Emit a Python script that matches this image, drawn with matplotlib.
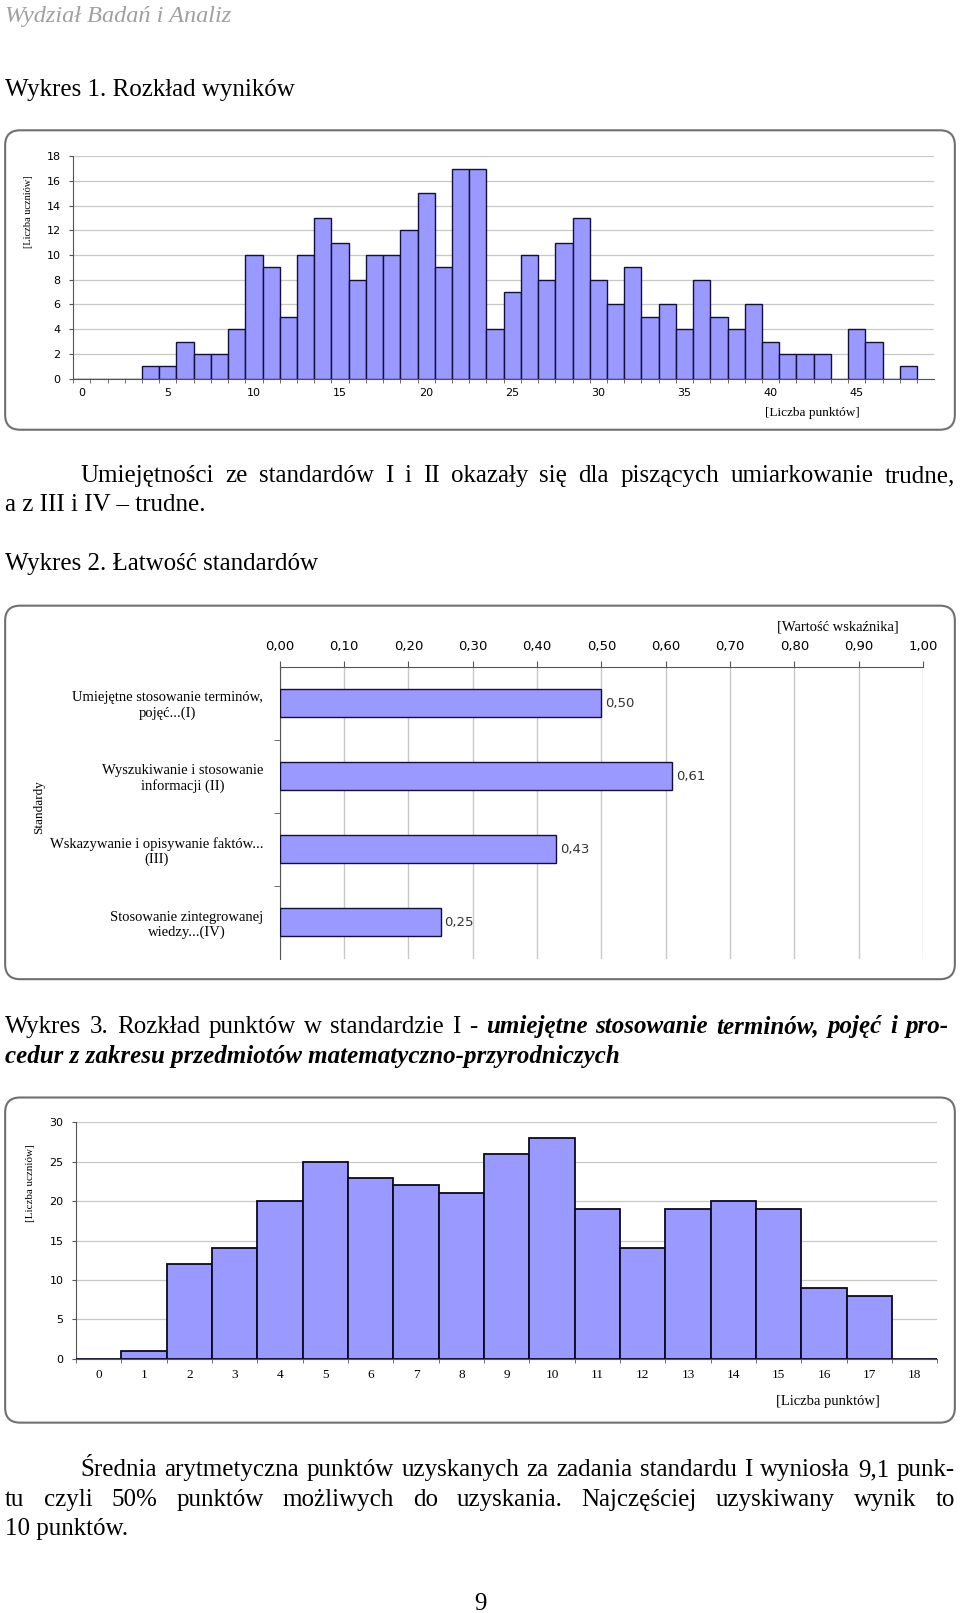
import matplotlib
matplotlib.use('Agg')
import matplotlib.pyplot as plt
from matplotlib.patches import FancyBboxPatch
from matplotlib.transforms import IdentityTransform

# Output size in pixels, and the layout grid the positions below are read on
W, H = 960, 1613
LW, LH = 933.0, 1568.0
S = W / LW

# Wykres 1 - rozkład wyników (liczba punktów -> liczba uczniów)
points_all = list(range(49))
students_all = [0, 0, 0, 0, 1, 1, 3, 2, 2, 4,
                10, 9, 5, 10, 13, 11, 8, 10, 10, 12,
                15, 9, 17, 17, 4, 7, 10, 8, 11, 13,
                8, 6, 9, 5, 6, 4, 8, 5, 4, 6,
                3, 2, 2, 2, 0, 4, 3, 0, 1]

# Wykres 2 - łatwość standardów
standards = ['Umiejętne stosowanie terminów,\npojęć...(I)',
             'Wyszukiwanie i stosowanie\ninformacji (II)',
             'Wskazywanie i opisywanie faktów...\n(III)',
             'Stosowanie zintegrowanej\nwiedzy...(IV)']
ease = [0.50, 0.61, 0.43, 0.25]
ease_ticks = [i / 10 for i in range(11)]

# Wykres 3 - rozkład punktów w standardzie I
points_std1 = list(range(19))
students_std1 = [0, 1, 12, 14, 20, 25, 23, 22, 21, 26,
                 28, 19, 14, 19, 20, 19, 9, 8, 0]

BAR = '#9999ff'
EDGE = '#10103a'
GRID = '#c8c8c8'
AXIS = '#555555'
SERIF = 'Liberation Serif'
SANS = 'DejaVu Sans'
BODY = 18

fig = plt.figure(figsize=(W / 100, H / 100), dpi=100)
renderer = fig.canvas.get_renderer()


def ax_box(x0, y0, x1, y1):
    """Axes from a layout box (y measured from the top of the page)."""
    return fig.add_axes([x0 / LW, 1 - y1 / LH, (x1 - x0) / LW, (y1 - y0) / LH])


def frame(x0, y0, x1, y1):
    p = FancyBboxPatch((x0 * S, (LH - y1) * S), (x1 - x0) * S, (y1 - y0) * S,
                       boxstyle='round,pad=0,rounding_size=15',
                       transform=IdentityTransform(), fc='white',
                       ec='#707070', lw=1.5, zorder=-1)
    fig.add_artist(p)


def put(px, py, s, **kw):
    kw.setdefault('family', SERIF)
    kw.setdefault('fontsize', BODY)
    kw.setdefault('va', 'baseline')
    return fig.text(px / LW, 1 - py / LH, s, **kw)


def justify(py, x0, x1, words, size=BODY):
    while True:
        texts = [put(0, py, w, fontsize=size, **kw) for w, kw in words]
        widths = [t.get_window_extent(renderer).width / S for t in texts]
        gap = (x1 - x0 - sum(widths)) / (len(texts) - 1)
        if gap >= 3 or size < 10:
            break
        for t in texts:
            t.remove()
        size -= 0.5
    x = x0
    for t, w in zip(texts, widths):
        t.set_x(x / LW)
        x += w + gap


def comma(v):
    return f'{v:.2f}'.replace('.', ',')


# ----- page text -----
put(5, 21, 'Wydział Badań i Analiz', fontsize=17.5, style='italic', color='#a0a0a0')
put(5, 93, 'Wykres 1. Rozkład wyników')

line = 'Umiejętności ze standardów I i II okazały się dla piszących umiarkowanie trudne,'
justify(469, 78, 928, [(w, {}) for w in line.split()])
put(5, 497, 'a z III i IV – trudne.')
put(5, 554, 'Wykres 2. Łatwość standardów')

bi = {'weight': 'bold', 'style': 'italic'}
l1 = [(w, {}) for w in 'Wykres 3. Rozkład punktów w standardzie I -'.split()]
l1 += [(w, bi) for w in 'umiejętne stosowanie terminów, pojęć i pro-'.split()]
justify(1004, 5, 922, l1)
put(5, 1033, 'cedur z zakresu przedmiotów matematyczno-przyrodniczych', **bi)

line = 'Średnia arytmetyczna punktów uzyskanych za zadania standardu I wyniosła 9,1 punk-'
justify(1435, 78, 928, [(w, {}) for w in line.split()])
line = 'tu czyli 50% punktów możliwych do uzyskania. Najczęściej uzyskiwany wynik to'
justify(1464, 5, 928, [(w, {}) for w in line.split()])
put(5, 1492, '10 punktów.')
put(467, 1565, '9', ha='center')

# ----- Wykres 1 -----
frame(5, 127, 928, 418)
ax1 = ax_box(71, 152, 908, 368)
ax1.bar(points_all, students_all, width=1.0, color=BAR, edgecolor=EDGE,
        linewidth=1.0, zorder=3)
ax1.set_xlim(-0.5, 49.5)
ax1.set_ylim(0, 18)
ax1.set_yticks(range(0, 19, 2))
ax1.set_xticks(points_all[::5])
ax1.set_xticks([p - 0.5 for p in points_all] + [48.5], minor=True)
ax1.tick_params(axis='x', which='major', length=0, pad=7, labelsize=8)
ax1.tick_params(axis='x', which='minor', length=3, color=AXIS)
ax1.tick_params(axis='y', length=3, color=AXIS, labelsize=8, pad=6)
ax1.grid(axis='y', color=GRID, lw=0.9, zorder=0)
for s in ('top', 'right'):
    ax1.spines[s].set_visible(False)
for s in ('left', 'bottom'):
    ax1.spines[s].set_color(AXIS)
put(28, 206, '[Liczba uczniów]', fontsize=7.5, rotation=90, ha='center', va='center')
put(790, 404, '[Liczba punktów]', fontsize=9.5, ha='center')

# ----- Wykres 2 -----
frame(5, 589, 928, 952)
ax2 = ax_box(272, 648, 897, 932)
pos = list(range(len(standards)))
ax2.barh(pos, ease, height=0.38, color=BAR, edgecolor=EDGE, linewidth=1.0, zorder=3)
ax2.set_xlim(0, 1)
ax2.set_ylim(len(standards) - 0.5, -0.5)
ax2.xaxis.tick_top()
ax2.set_xticks(ease_ticks, [comma(v) for v in ease_ticks])
ax2.set_yticks(pos, standards, family=SERIF, fontsize=10.5, multialignment='center')
ax2.set_yticks([p + 0.5 for p in pos[:-1]], minor=True)
ax2.tick_params(axis='x', length=4, color=AXIS, labelsize=9.5, pad=6)
ax2.tick_params(axis='y', which='major', length=0, pad=12)
ax2.tick_params(axis='y', which='minor', length=4, color=AXIS)
ax2.grid(axis='x', color=GRID, lw=1.0, zorder=0)
for s in ('bottom', 'right'):
    ax2.spines[s].set_visible(False)
for s in ('left', 'top'):
    ax2.spines[s].set_color(AXIS)
for p, v in zip(pos, ease):
    ax2.text(v + 0.006, p, comma(v), va='center', ha='left', fontsize=9.5,
             family=SANS, color='#333333')
put(38, 785, 'Standardy', fontsize=9.5, rotation=90, ha='center', va='center')
put(814, 613, '[Wartość wskaźnika]', fontsize=10.5, ha='center')

# ----- Wykres 3 -----
frame(5, 1067, 928, 1383)
ax3 = ax_box(74, 1091, 911, 1321)
ax3.bar(points_std1, students_std1, width=1.0, color=BAR, edgecolor='#0a0a20',
        linewidth=1.3, zorder=3)
ax3.set_xlim(-0.5, 18.5)
ax3.set_ylim(0, 30)
ax3.set_yticks(range(0, 31, 5))
ax3.set_xticks(points_std1)
ax3.set_xticklabels([str(p) for p in points_std1], family=SERIF)
ax3.set_xticks([p - 0.5 for p in points_std1] + [18.5], minor=True)
ax3.tick_params(axis='x', which='major', length=0, pad=7, labelsize=9.5)
ax3.tick_params(axis='x', which='minor', length=3, color=AXIS)
ax3.tick_params(axis='y', length=3, color=AXIS, labelsize=8, pad=6)
ax3.grid(axis='y', color=GRID, lw=0.9, zorder=0)
for s in ('top', 'right'):
    ax3.spines[s].set_visible(False)
for s in ('left', 'bottom'):
    ax3.spines[s].set_color(AXIS)
put(30, 1150, '[Liczba uczniów]', fontsize=8, rotation=90, ha='center', va='center')
put(805, 1366, '[Liczba punktów]', fontsize=10.5, ha='center')

fig.savefig('out.png', dpi=100)
